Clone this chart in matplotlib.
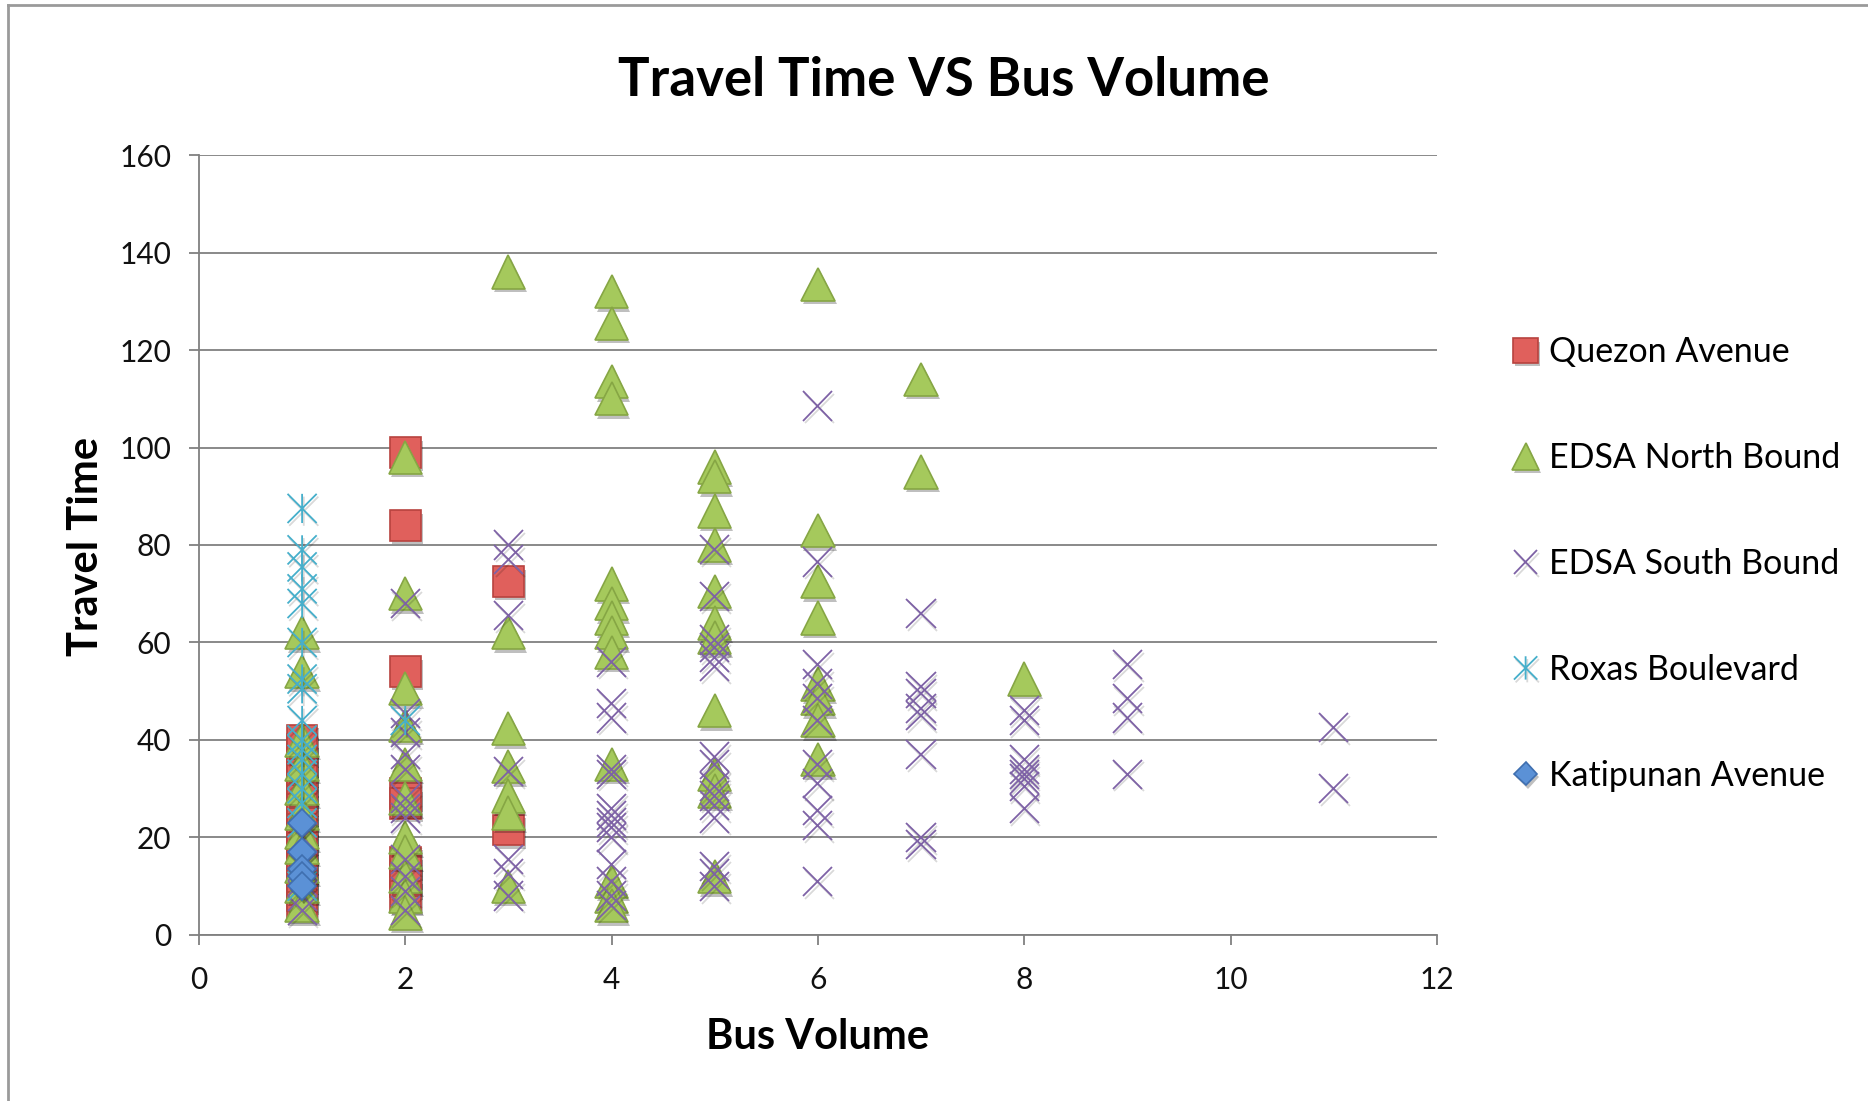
import numpy as np
import matplotlib.pyplot as plt
import matplotlib.patheffects as pe
from matplotlib.path import Path
from matplotlib.lines import Line2D

plt.rcParams['font.family'] = ['Lato', 'DejaVu Sans']

# Quezon Avenue (red squares)
qa_x = [1] * 18 + [2] * 9 + [3] * 2
qa_y = [6, 8, 10, 12, 14, 16, 18, 20, 22, 24, 26, 28, 30, 32, 34, 36, 38, 40,
        99, 84, 54, 29, 27, 15, 13, 11, 8,
        72.5, 21.5]

# EDSA North Bound (green triangles)
nb_x = [1] * 11 + [2] * 11 + [3] * 7 + [4] * 13 + [5] * 11 + [6] * 8 + [7] * 2 + [8]
nb_y = [62, 54, 40, 35, 30, 25, 21, 18, 14, 10, 6,
        98, 70, 50.5, 43, 35, 28, 20, 17, 12, 8, 4.5,
        136, 62, 42.3, 34.5, 28.5, 25, 10,
        132, 125.5, 113.5, 110, 72, 68, 65, 62, 58, 35, 11, 8, 6,
        96, 94, 87, 80, 70.5, 64, 61, 46, 33, 29.5, 12,
        133.5, 83, 72.5, 65, 51.5, 48.5, 44, 36,
        114, 95,
        52.5]

# EDSA South Bound (purple crosses)
sb_x = [1] * 5 + [2] * 12 + [3] * 7 + [4] * 14 + [5] * 15 + [6] * 11 + [7] * 8 + [8] * 8 + [9] * 4 + [11] * 2
sb_y = [5, 8, 11, 14, 20,
        68, 45.5, 41.5, 37, 34, 28, 26, 24, 15.5, 12, 9, 5,
        80, 77, 65.5, 33.5, 15.5, 12.5, 8,
        56, 47.5, 44.5, 34, 33, 26, 24.5, 23, 22, 20, 14.5, 11, 8, 6,
        79, 69.5, 60.5, 59, 57, 55, 36.5, 35, 30.5, 28.5, 26.5, 24, 14, 12.5, 10,
        108.5, 76.5, 55.5, 51.5, 48.5, 44, 35, 31, 25.5, 22.5, 11,
        66, 51, 49.5, 46.5, 45, 37, 20, 18.5,
        46, 44, 36, 34, 33, 32, 30.5, 26,
        55.5, 48.5, 44.5, 33,
        42.5, 30]

# Roxas Boulevard (cyan asterisks)
rb_x = [1] * 17 + [2]
rb_y = [87.5, 79, 75.5, 71, 68, 60, 52.5, 50.5, 44, 40, 38, 36, 33, 30, 27, 23, 10,
        44]

# Katipunan Avenue (blue diamonds)
ka_x = [1] * 5
ka_y = [23, 17, 13.5, 12, 10]

asterisk = Path([(0, -1), (0, 1), (-1, -1), (1, 1), (-1, 1), (1, -1)],
                [Path.MOVETO, Path.LINETO] * 3)

shadow = [pe.SimplePatchShadow(offset=(1.5, -2.5), shadow_rgbFace='k', alpha=0.25), pe.Normal()]
line_shadow = [pe.SimpleLineShadow(offset=(1.2, -2), shadow_color='k', alpha=0.15), pe.Normal()]

fig = plt.figure(figsize=(18.68, 11.01), dpi=100)
ax = fig.add_axes([0.1065, 0.1508, 0.6627, 0.7084])

ax.plot(qa_x, qa_y, ls='none', marker='s', ms=22, mfc='#E0605C', mec='#B8433F', mew=1.2,
        label='Quezon Avenue', zorder=3, path_effects=shadow)
ax.plot(nb_x, nb_y, ls='none', marker='^', ms=24, mfc='#A5C95C', mec='#86A644', mew=1.2,
        label='EDSA North Bound', zorder=4, path_effects=shadow)
ax.plot(sb_x, sb_y, ls='none', marker='x', ms=21, mec='#7E62A6', mew=1.3,
        label='EDSA South Bound', zorder=5, path_effects=line_shadow)
ax.plot(rb_x, rb_y, ls='none', marker=asterisk, ms=21, mfc='none', mec='#46AFCB', mew=1.3,
        label='Roxas Boulevard', zorder=6, path_effects=line_shadow)
ax.plot(ka_x, ka_y, ls='none', marker='D', ms=14.5, mfc='#5B91D6', mec='#3F6FB0', mew=1.2,
        label='Katipunan Avenue', zorder=7, path_effects=shadow)

ax.set_xlim(0, 12)
ax.set_ylim(0, 160)
ax.set_xticks(np.arange(0, 13, 2))
ax.set_yticks(np.arange(0, 161, 20))
ax.yaxis.grid(True, color='#808080', lw=1.3)
ax.set_axisbelow(True)
for s in ['top', 'right']:
    ax.spines[s].set_visible(False)
for s in ['left', 'bottom']:
    ax.spines[s].set_color('#808080')
    ax.spines[s].set_linewidth(1.3)
ax.tick_params(axis='both', direction='out', length=7, width=1.3, color='#808080',
               labelsize=21.5, labelcolor='#111111')
ax.tick_params(axis='y', pad=13)
ax.tick_params(axis='x', pad=15)

fig.text(0.505, 1 - 81 / 1101, 'Travel Time VS Bus Volume', ha='center', va='center',
         fontsize=38, fontweight='bold')
fig.text(0.4379, 0.0581, 'Bus Volume', ha='center', va='center', fontsize=30, fontweight='bold')
fig.text(0.0460, 0.5036, 'Travel Time', ha='center', va='center', rotation=90,
         fontsize=30, fontweight='bold')

ax.legend(loc='center left', bbox_to_anchor=(1512 / 1868, 1 - 564 / 1101),
          bbox_transform=fig.transFigure, frameon=False, fontsize=24.5,
          handlelength=0.8, handletextpad=0.28, borderpad=0, borderaxespad=0,
          labelspacing=2.17, markerscale=0.8)

# chart frame edges visible at top and left
fig.add_artist(Line2D([8 / 1868, 8 / 1868], [0, 1 - 5 / 1101], color='#9a9a9a', lw=2))
fig.add_artist(Line2D([8 / 1868, 1], [1 - 5 / 1101, 1 - 5 / 1101], color='#9a9a9a', lw=2))

fig.savefig('out.png', dpi=100)
